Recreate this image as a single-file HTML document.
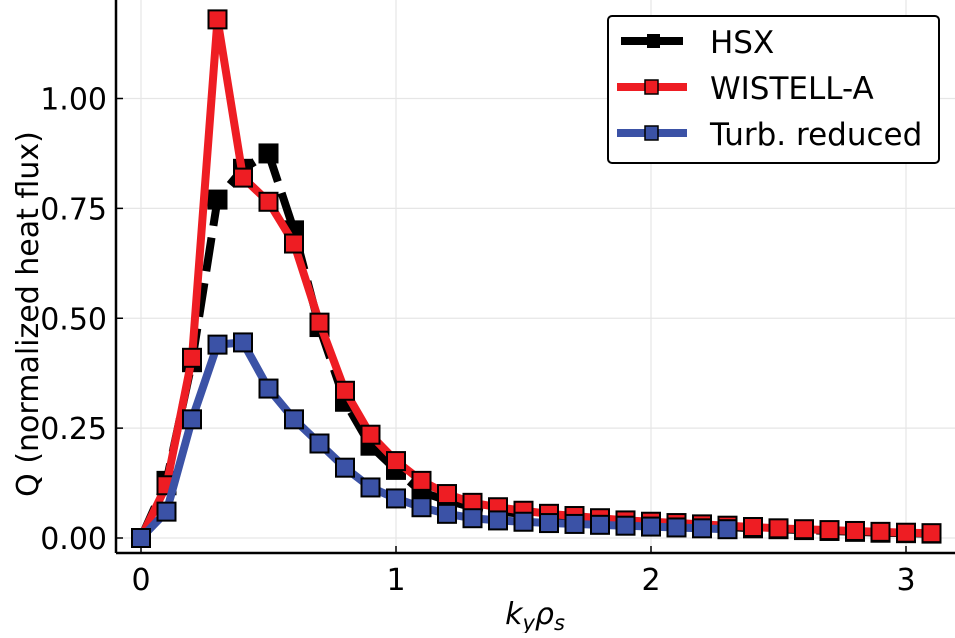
<!DOCTYPE html>
<html><head><meta charset="utf-8"><style>
html,body{margin:0;padding:0;background:#fff;}
svg text{font-family:"DejaVu Sans","Liberation Sans",sans-serif;fill:#000;}
</style></head><body>
<svg id="chart" width="955" height="633" viewBox="0 0 955 633" xmlns="http://www.w3.org/2000/svg">
<g id="grid"></g>
<g id="series"></g>
<g id="axes"></g>
<text x="535" y="624" text-anchor="middle" font-size="30" font-style="italic">k<tspan font-size="21" dy="6">y</tspan><tspan dy="-6">ρ</tspan><tspan font-size="21" dy="6">s</tspan></text>
<text transform="translate(38,314) rotate(-90)" text-anchor="middle" font-size="30">Q (normalized heat flux)</text>
<g>
<rect x="608" y="16" width="331" height="147" rx="4" fill="#fff" stroke="#000" stroke-width="2"/>
<g>
<line x1="621" y1="41" x2="683" y2="41" stroke="#000" stroke-width="8" stroke-dasharray="30,9"/>
<rect x="647" y="34" width="13" height="14" fill="#000"/>
<text x="710" y="53" font-size="31">HSX</text></g>
<g>
<line x1="617" y1="87" x2="687" y2="87" stroke="#ee1d23" stroke-width="8"/>
<rect x="645" y="80" width="13" height="14" fill="#ee1d23" stroke="#000" stroke-width="1.5"/>
<text x="710" y="99" font-size="31">WISTELL-A</text></g>
<g>
<line x1="617" y1="133" x2="687" y2="133" stroke="#3b52a6" stroke-width="8"/>
<rect x="645" y="126" width="13" height="14" fill="#3b52a6" stroke="#000" stroke-width="1.5"/>
<text x="710" y="145" font-size="31">Turb. reduced</text></g>
</g>
</svg>
<script>
const xValues = [0,0.1,0.2,0.3,0.4,0.5,0.6,0.7,0.8,0.9,1.0,1.1,1.2,1.3,1.4,1.5,1.6,1.7,1.8,1.9,2.0,2.1,2.2,2.3,2.4,2.5,2.6,2.7,2.8,2.9,3.0,3.1];
const hsxValues = [0,0.13,0.40,0.77,0.84,0.875,0.70,0.48,0.31,0.21,0.155,0.105,0.085,0.07,0.06,0.055,0.05,0.045,0.041,0.037,0.034,0.031,0.028,0.025,0.022,0.02,0.018,0.016,0.014,0.012,0.011,0.01];
const wistellValues = [0,0.12,0.41,1.18,0.82,0.765,0.67,0.49,0.335,0.235,0.175,0.13,0.10,0.08,0.07,0.062,0.055,0.05,0.045,0.04,0.037,0.034,0.031,0.028,0.025,0.022,0.02,0.018,0.016,0.014,0.012,0.011];
const turbValues = [0,0.06,0.27,0.44,0.445,0.34,0.27,0.215,0.16,0.115,0.09,0.07,0.055,0.045,0.04,0.037,0.034,0.032,0.03,0.028,0.026,0.024,0.022,0.02];
const xTicks = [0,1,2,3];
const yTicks = [0,0.25,0.5,0.75,1.0];
const yTickLabels = ["0.00","0.25","0.50","0.75","1.00"];

const NS="http://www.w3.org/2000/svg";
function X(v){return 141+v*255;}
function Y(v){return 538-v*439.5;}
function mk(tag,attrs,parent){const e=document.createElementNS(NS,tag);for(const k in attrs)e.setAttribute(k,attrs[k]);parent.appendChild(e);return e;}
const grid=document.getElementById('grid'),axes=document.getElementById('axes'),series=document.getElementById('series');
xTicks.forEach(t=>{
  const g=mk('line',{x1:X(t),x2:X(t),y1:0,y2:553,stroke:'#e6e6e6','stroke-width':1.2},grid);
  
  
  const tk=mk('line',{x1:X(t),x2:X(t),y1:553,y2:546,stroke:'#000','stroke-width':1.5},axes);
  
  
  const tx=mk('text',{x:X(t),y:590,'text-anchor':'middle','font-size':30},axes);
  tx.textContent=String(t);
  
  
});
yTicks.forEach((t,i)=>{
  const g=mk('line',{x1:116,x2:955,y1:Y(t),y2:Y(t),stroke:'#e6e6e6','stroke-width':1.2},grid);
  
  
  const tk=mk('line',{x1:116,x2:123,y1:Y(t),y2:Y(t),stroke:'#000','stroke-width':1.5},axes);
  
  
  const tx=mk('text',{x:107,y:Y(t)+11,'text-anchor':'end','font-size':30},axes);
  tx.textContent=yTickLabels[i];
  
  
});
const sp1=mk('line',{x1:116,x2:116,y1:0,y2:553,stroke:'#000','stroke-width':2.5},axes);


const sp2=mk('line',{x1:116,x2:955,y1:553,y2:553,stroke:'#000','stroke-width':2.5},axes);



function drawSeries(vals,color,dash,name,markerFill){
  const g=mk('g',{},series);
  
  
  const pts=vals.map((v,i)=>X(xValues[i])+','+Y(v)).join(' ');
  const pl=mk('polyline',{points:pts,fill:'none',stroke:color,'stroke-width':8,'stroke-linejoin':'round'},g);
  if(dash)pl.setAttribute('stroke-dasharray',dash);
  
  
  vals.forEach((v,i)=>{
    const r=mk('rect',{x:X(xValues[i])-9,y:Y(v)-9,width:18,height:18,fill:markerFill,stroke:'#000','stroke-width':2},g);
    
    
  });
}
drawSeries(hsxValues,'#000','34,12','hsx','#000');
drawSeries(wistellValues,'#ee1d23',null,'wistell-a','#ee1d23');
drawSeries(turbValues,'#3b52a6',null,'turb-reduced','#3b52a6');
</script>
</body></html>
